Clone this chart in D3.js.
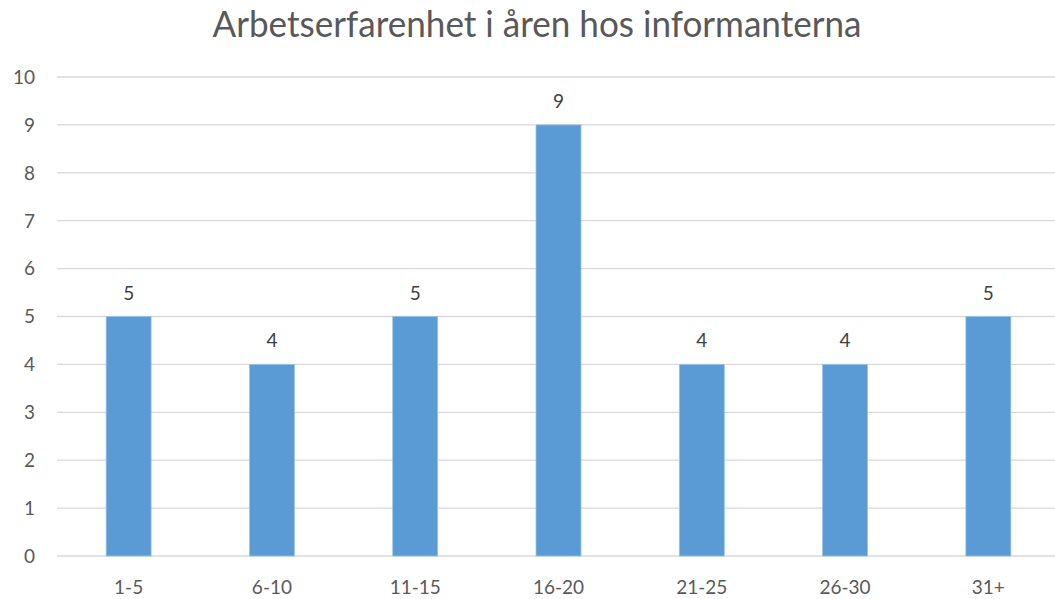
<!DOCTYPE html>
<html>
<head>
<meta charset="utf-8">
<script src="https://cdn.jsdelivr.net/npm/d3@7"></script>
<style>
  body { margin: 0; background: #fff; }
  svg { display: block; font-family: Lato, "Open Sans", sans-serif; }
</style>
</head>
<body>
<div id="chart"></div>
<script>
const categories = ["1-5", "6-10", "11-15", "16-20", "21-25", "26-30", "31+"];
const values = [5, 4, 5, 9, 4, 4, 5];
const yTicks = [0, 1, 2, 3, 4, 5, 6, 7, 8, 9, 10];
const title = "Arbetserfarenhet i åren hos informanterna";

const width = 1055, height = 599;
const margin = { top: 77, right: -5, bottom: 43, left: 57 };

const svg = d3.select("#chart").append("svg")
    .attr("width", width)
    .attr("height", height);

const x = d3.scaleBand()
    .domain(categories)
    .range([margin.left, width - margin.right])
    .paddingInner(0.686)
    .paddingOuter(0.343);

const y = d3.scaleLinear()
    .domain([0, 10])
    .range([height - margin.bottom, margin.top]);

// Gridlines
svg.append("g")
    .selectAll("line")
    .data(yTicks)
    .join("line")
    .attr("x1", margin.left)
    .attr("x2", width - margin.right)
    .attr("y1", d => y(d))
    .attr("y2", d => y(d))
    .attr("stroke", "#d9d9d9")
    .attr("stroke-width", 1.3);

// Y labels
svg.append("g")
    .selectAll("text")
    .data(yTicks)
    .join("text")
    .attr("x", 35)
    .attr("y", d => y(d))
    .attr("dy", "0.36em")
    .attr("text-anchor", "end")
    .attr("fill", "#595959")
    .attr("font-size", 19)
    .text(d => d);

// Bars
svg.append("g")
    .selectAll("rect")
    .data(values)
    .join("rect")
    .attr("x", (d, i) => x(categories[i]))
    .attr("y", d => y(d))
    .attr("width", x.bandwidth())
    .attr("height", d => y(0) - y(d))
    .attr("fill", "#5b9bd5")
    .attr("stroke", "#9cc3e6")
    .attr("stroke-width", 0.8);

// Data labels
svg.append("g")
    .selectAll("text")
    .data(values)
    .join("text")
    .attr("x", (d, i) => x(categories[i]) + x.bandwidth() / 2)
    .attr("y", d => y(d) - 17)
    .attr("text-anchor", "middle")
    .attr("fill", "#404040")
    .attr("font-size", 19)
    .text(d => d);

// X labels
svg.append("g")
    .selectAll("text")
    .data(categories)
    .join("text")
    .attr("x", d => x(d) + x.bandwidth() / 2)
    .attr("y", y(0) + 38)
    .attr("text-anchor", "middle")
    .attr("fill", "#595959")
    .attr("font-size", 19)
    .text(d => d);

// Title
svg.append("text")
    .attr("x", 537)
    .attr("y", 37)
    .attr("text-anchor", "middle")
    .attr("fill", "#595959")
    .attr("font-size", 36)
    .attr("textLength", 649)
    .attr("lengthAdjust", "spacingAndGlyphs")
    .text(title);
</script>
</body>
</html>
